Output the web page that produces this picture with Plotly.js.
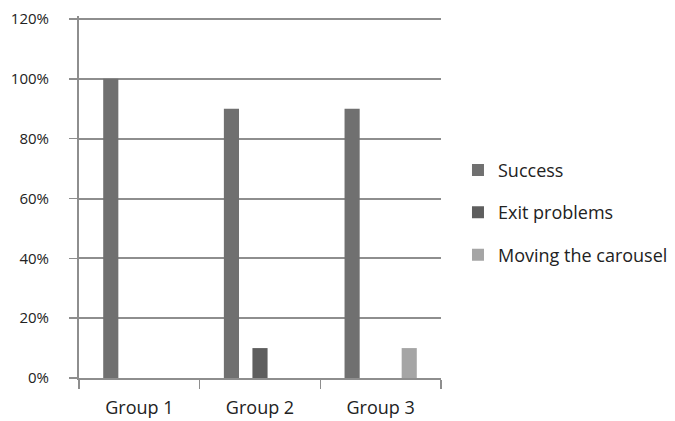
<!DOCTYPE html>
<html>
<head>
<meta charset="utf-8">
<script src="https://cdn.plot.ly/plotly-3.0.1.min.js"></script>
<style>html,body{margin:0;padding:0;background:#fff;}#chart{width:675px;height:421px;}</style>
</head>
<body>
<div id="chart"></div>
<script>
var categories = ["Group 1", "Group 2", "Group 3"];
var seriesNames = ["Success", "Exit problems", "Moving the carousel"];
var success = [1.0, 0.9, 0.9];
var exitProblems = [0, 0.1, 0];
var movingCarousel = [0, 0, 0.1];
var yTickVals = [0, 0.2, 0.4, 0.6, 0.8, 1.0, 1.2];
var yTickText = ["0%", "20%", "40%", "60%", "80%", "100%", "120%"];

var colors = ["#707070", "#5e5e5e", "#a5a5a5"];
var values = [success, exitProblems, movingCarousel];
var data = values.map(function (v, i) {
  return {
    type: "bar",
    x: categories,
    y: v,
    name: seriesNames[i],
    legendgroup: "g" + i,
    marker: {color: colors[i], line: {width: 0}},
    hoverinfo: "none"
  };
});

var gridCol = "#8e8e8e";
var txtCol = "#222222";
var layout = {
  width: 675,
  height: 421,
  margin: {l: 79, r: 234, t: 16, b: 43, pad: 0, autoexpand: false},
  paper_bgcolor: "#ffffff",
  plot_bgcolor: "#ffffff",
  font: {family: "Open Sans, sans-serif", color: txtCol},
  barmode: "group",
  bargap: 0.29,
  bargroupgap: 0.47,
  showlegend: true,
  legend: {
    x: 0.6785, xanchor: "left", xref: "container",
    y: 0.625, yanchor: "top",
    font: {size: 18, color: txtCol},
    tracegroupgap: 16,
    bgcolor: "rgba(0,0,0,0)"
  },
  xaxis: {
    type: "category",
    tickson: "boundaries",
    ticks: "outside",
    ticklen: 9,
    tickwidth: 1.5,
    tickcolor: gridCol,
    showline: true,
    linecolor: gridCol,
    linewidth: 2,
    showgrid: false,
    tickfont: {size: 18, color: txtCol},
    ticklabelstandoff: 12,
    fixedrange: true
  },
  yaxis: {
    range: [0, 1.21],
    tickvals: yTickVals,
    ticktext: yTickText,
    ticks: "outside",
    ticklen: 8,
    tickwidth: 1.5,
    tickcolor: gridCol,
    showline: true,
    linecolor: gridCol,
    linewidth: 2,
    showgrid: true,
    gridcolor: gridCol,
    gridwidth: 2,
    zeroline: false,
    tickfont: {size: 15, color: txtCol},
    ticklabelstandoff: 17,
    fixedrange: true
  }
};

Plotly.newPlot("chart", data, layout, {displayModeBar: false, staticPlot: true});
</script>
</body>
</html>
